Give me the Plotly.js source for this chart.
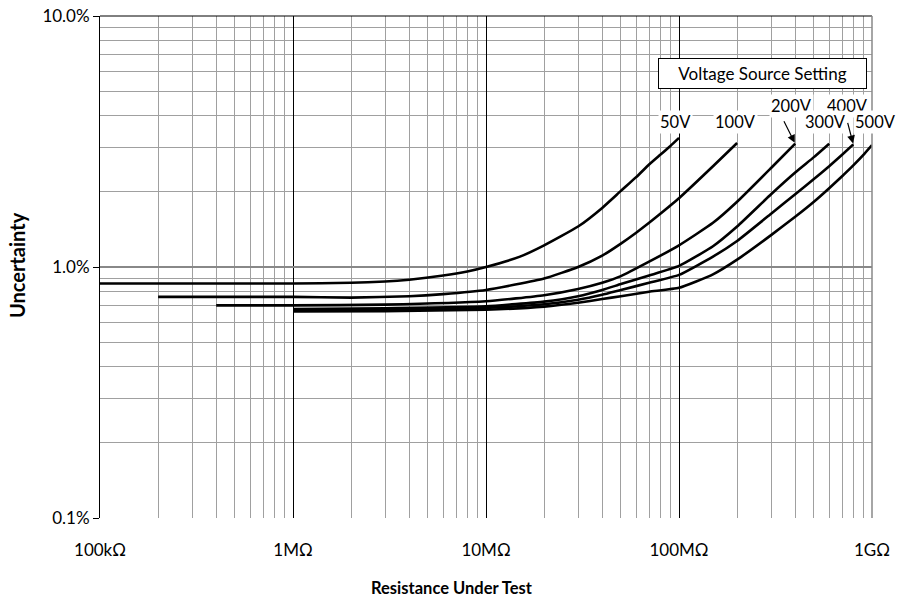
<!DOCTYPE html>
<html>
<head>
<meta charset="utf-8">
<script src="https://cdn.plot.ly/plotly-3.0.1.min.js"></script>
<style>html,body{margin:0;padding:0;background:#fff;}</style>
</head>
<body>
<div id="chart" style="width:900px;height:600px;"></div>
<script>
// Resistance (ohms) and uncertainty (%)
const r50  = [1e5, 1e6, 2e6, 3e6, 4e6, 6e6, 8e6, 1e7, 1.5e7, 2e7, 3e7, 4e7, 5e7, 6e7, 7e7, 8e7, 9e7, 1e8];
const u50  = [0.86, 0.86, 0.865, 0.875, 0.89, 0.925, 0.96, 1.0, 1.1, 1.22, 1.45, 1.72, 2.01, 2.28, 2.56, 2.8, 3.03, 3.27];

const r100 = [2e5, 1e6, 2e6, 4e6, 6e6, 1e7, 2e7, 3e7, 4e7, 5e7, 6e7, 7e7, 8e7, 1e8, 1.5e8, 2e8];
const u100 = [0.76, 0.76, 0.755, 0.765, 0.78, 0.81, 0.9, 1.0, 1.11, 1.24, 1.37, 1.5, 1.63, 1.88, 2.52, 3.12];

const r200 = [4e5, 1e6, 3e6, 1e7, 2e7, 3e7, 4e7, 5e7, 7e7, 1e8, 1.5e8, 2e8, 3e8, 4e8];
const u200 = [0.703, 0.703, 0.708, 0.73, 0.772, 0.818, 0.866, 0.92, 1.05, 1.22, 1.5, 1.82, 2.48, 3.1];

const r300 = [1e6, 3e6, 1e7, 2e7, 3e7, 4e7, 5e7, 7e7, 1e8, 1.5e8, 2e8, 3e8, 4e8, 5e8, 6e8];
const u300 = [0.68, 0.685, 0.697, 0.728, 0.765, 0.81, 0.855, 0.925, 1.01, 1.21, 1.45, 1.95, 2.38, 2.74, 3.1];

const r400 = [1e6, 3e6, 1e7, 2e7, 3e7, 4e7, 5e7, 7e7, 1e8, 1.5e8, 2e8, 3e8, 4e8, 5e8, 6e8, 7e8, 8e8];
const u400 = [0.672, 0.675, 0.687, 0.71, 0.74, 0.775, 0.81, 0.865, 0.93, 1.1, 1.27, 1.63, 1.95, 2.24, 2.52, 2.8, 3.08];

const r500 = [1e6, 3e6, 1e7, 2e7, 3e7, 4e7, 5e7, 7e7, 1e8, 1.5e8, 2e8, 3e8, 4e8, 5e8, 6e8, 7e8, 8e8, 9e8, 1e9];
const u500 = [0.665, 0.667, 0.676, 0.695, 0.72, 0.745, 0.765, 0.797, 0.826, 0.935, 1.07, 1.34, 1.585, 1.82, 2.06, 2.3, 2.54, 2.79, 3.06];

const seriesNames = ['50V', '100V', '200V', '300V', '400V', '500V'];

const xTickVals = [1e5, 1e6, 1e7, 1e8, 1e9];
const xTickText = ['100kΩ', '1MΩ', '10MΩ', '100MΩ', '1GΩ'];
const xMinorVals = [2e5,3e5,4e5,5e5,6e5,7e5,8e5,9e5, 2e6,3e6,4e6,5e6,6e6,7e6,8e6,9e6,
                    2e7,3e7,4e7,5e7,6e7,7e7,8e7,9e7, 2e8,3e8,4e8,5e8,6e8,7e8,8e8,9e8];
const yTickVals = [0.1, 1, 10];
const yTickText = ['0.1%', '1.0%', '10.0%'];
const yMinorVals = [0.2,0.3,0.4,0.5,0.6,0.7,0.8,0.9, 2,3,4,5,6,7,8,9];

const xs = [r50, r100, r200, r300, r400, r500];
const ys = [u50, u100, u200, u300, u400, u500];

const traces = xs.map((x, i) => ({
  x: x, y: ys[i], name: seriesNames[i], type: 'scatter', mode: 'lines',
  line: {color: '#000', width: 2.6, shape: 'spline', smoothing: 0.45},
  hoverinfo: 'x+y+name'
}));

const lblFont = {family: 'Lato, sans-serif', size: 16.5, color: '#000'};
function label(text, px, py) {
  return {text: text, xref: 'paper', yref: 'paper', x: (px - 100) / 772, y: (518 - py) / 502,
          xanchor: 'center', yanchor: 'middle', showarrow: false, font: lblFont,
          bgcolor: '#fff', borderpad: 1};
}
function arrow(xv, yv, ax, ay) {
  return {text: '', xref: 'x', yref: 'y', x: Math.log10(xv), y: Math.log10(yv),
          ax: ax, ay: ay, showarrow: true, arrowhead: 2, arrowsize: 1.3, arrowwidth: 1.2,
          arrowcolor: '#000', standoff: 1};
}

const annotations = [
  {text: 'Voltage Source Setting', xref: 'paper', yref: 'paper',
   x: (762 - 100) / 772, y: (518 - 73) / 502, xanchor: 'center', yanchor: 'middle',
   showarrow: false, font: {family: 'Lato, sans-serif', size: 17, color: '#000'},
   bgcolor: '#fff', bordercolor: '#000', borderwidth: 1,
   width: 205, height: 27, borderpad: 1},
  label('50V', 675, 122),
  label('100V', 735, 122),
  label('200V', 791, 106),
  label('400V', 847, 106),
  label('300V', 825, 122),
  label('500V', 875, 122),
  arrow(r200[r200.length - 1], u200[u200.length - 1], -12, -24),
  arrow(r400[r400.length - 1], u400[u400.length - 1], -6, -23),
  // axis titles (placed as in the reference)
  {text: '<b>Resistance Under Test</b>', xref: 'paper', yref: 'paper',
   x: (452 - 100) / 772, y: (518 - 588) / 502, xanchor: 'center', yanchor: 'middle',
   showarrow: false, font: {family: 'Lato, sans-serif', size: 16.5, color: '#000'}},
  {text: '<b>Uncertainty</b>', xref: 'paper', yref: 'paper', textangle: -90,
   x: (17 - 100) / 772, y: (518 - 265) / 502, xanchor: 'center', yanchor: 'middle',
   showarrow: false, font: {family: 'Lato, sans-serif', size: 20, color: '#000'}}
];

const layout = {
  width: 900, height: 600,
  margin: {l: 100, r: 28, t: 16, b: 82},
  paper_bgcolor: '#fff', plot_bgcolor: '#fff',
  font: {family: 'Lato, sans-serif', size: 17, color: '#000'},
  showlegend: false,
  xaxis: {
    type: 'log', range: [5, 9], tickmode: 'array', tickvals: xTickVals, ticktext: xTickText,
    ticks: '', showgrid: true, gridcolor: '#000', gridwidth: 1, zeroline: false,
    showline: false, ticklabelstandoff: 20,
    tickfont: {size: 17},
    minor: {tickmode: 'array', tickvals: xMinorVals, showgrid: true, gridcolor: '#a0a0a0', gridwidth: 1, ticks: ''}
  },
  yaxis: {
    type: 'log', range: [-1, 1], tickmode: 'array', tickvals: yTickVals, ticktext: yTickText,
    ticks: 'outside', ticklen: 6, tickcolor: '#000', tickwidth: 1,
    tickfont: {size: 17},
    showline: true, linecolor: '#000', linewidth: 1, mirror: false,
    showgrid: true, gridcolor: '#888', gridwidth: 1.5, zeroline: false,
    minor: {tickmode: 'array', tickvals: yMinorVals, showgrid: true, gridcolor: '#a0a0a0', gridwidth: 1, ticks: ''}
  },
  shapes: [
    {type: 'line', xref: 'paper', yref: 'paper', x0: 0, x1: 1, y0: 1, y1: 1, line: {color: '#000', width: 1}},
    {type: 'line', xref: 'paper', yref: 'paper', x0: 1, x1: 1, y0: 0, y1: 1, line: {color: '#888', width: 1.5}}
  ],
  annotations: annotations
};

Plotly.newPlot('chart', traces, layout, {displayModeBar: false, staticPlot: true});
</script>
</body>
</html>
